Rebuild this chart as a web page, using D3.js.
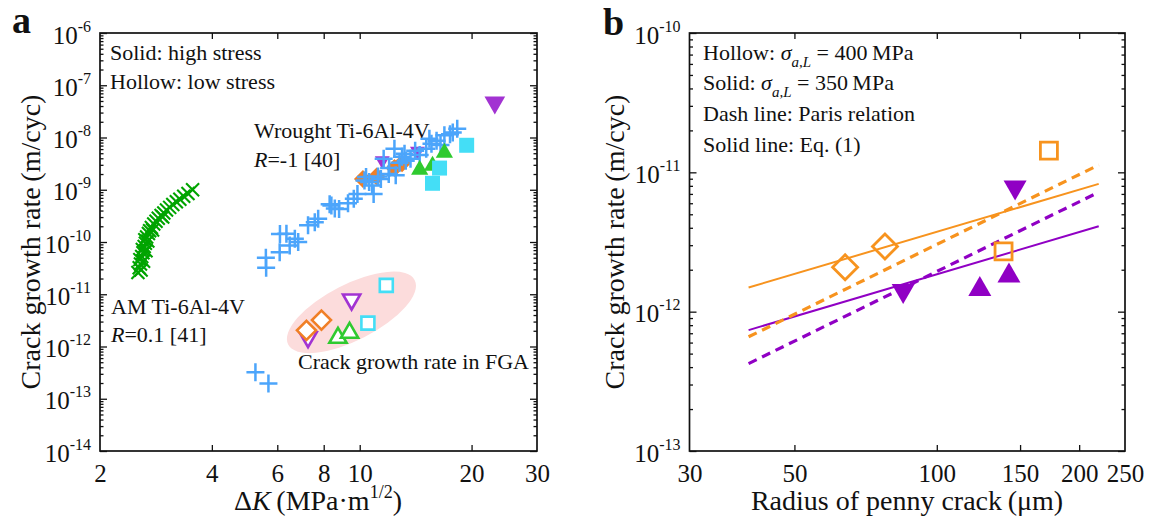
<!DOCTYPE html>
<html>
<head>
<meta charset="utf-8">
<script src="https://cdn.jsdelivr.net/npm/d3@7"></script>
<style>
  body { margin: 0; background: #ffffff; }
  svg text { font-family: "Liberation Serif", "DejaVu Serif", serif; fill: #111; }
</style>
</head>
<body>
<svg id="chart" width="1150" height="521" font-family="Liberation Serif"></svg>
<script>
/* ---------- panel a data : [dK (MPa m^1/2), da/dN (m/cyc)] ---------- */
const amTi = [
  [2.53,2.6e-11],[2.55,3.2e-11],[2.57,3.8e-11],[2.56,4.6e-11],[2.59,5.3e-11],[2.61,6.2e-11],
  [2.60,7.2e-11],[2.63,8.2e-11],[2.65,9.5e-11],[2.64,1.1e-10],[2.67,1.25e-10],[2.70,1.45e-10],
  [2.72,1.65e-10],[2.75,1.9e-10],[2.79,2.2e-10],[2.83,2.5e-10],[2.87,2.85e-10],[2.92,3.2e-10],
  [2.97,3.6e-10],[3.02,4.1e-10],[3.08,4.6e-10],[3.14,5.2e-10],[3.21,5.9e-10],[3.28,6.6e-10],
  [3.36,7.5e-10],[3.45,8.5e-10],[3.55,1.0e-9],[2.58,2.9e-11],[2.62,4.3e-11],[2.66,6.8e-11],
  [2.69,1.05e-10],[2.77,1.7e-10],[2.95,3.0e-10]
];
const wroughtTi = [
  [5.24,3.2e-13],[5.68,1.95e-13],
  [5.60,3.2e-11],[5.59,5.0e-11],[6.09,6.4e-11],[6.10,1.42e-10],[6.35,1.44e-10],[6.48,8.6e-11],
  [6.69,1.16e-10],[6.83,1.0e-10],[7.26,2.1e-10],[7.57,2.4e-10],[7.73,2.8e-10],[8.39,5.0e-10],
  [8.57,4.4e-10],[8.30,5.3e-10],[8.80,4.3e-10],[9.30,5.5e-10],[9.64,6.7e-10],[9.86,8.3e-10],
  [10.9,8.3e-10],[10.3,1.5e-9],[10.8,1.2e-9],[11.4,1.6e-9],[11.97,2.0e-9],[12.5,1.9e-9],
  [11.6,3.9e-9],[12.4,6.1e-9],[13.2,4.9e-9],[13.7,3.9e-9],[14.1,5.6e-9],[15.1,6.1e-9],
  [15.6,7.6e-9],[16.1,8.7e-9],[16.9,1.1e-8],[17.5,1.15e-8],[18.3,1.47e-8],[10.6,1.4e-9],
  [11.2,1.8e-9],[12.0,2.6e-9],[12.8,3.3e-9],[13.3,3.6e-9],[13.0,4.3e-9],[14.5,4.6e-9],
  [16.5,7.2e-9],[17.8,1.25e-8],[15.4,9.5e-9],[10.4,1.75e-9]
];
const solidDiamond = [[10.2,1.6e-9],[11.1,1.8e-9],[12.4,2.6e-9],[13.0,3.2e-9]];
const solidTriDown = [[11.5,3.3e-9],[14.3,5.0e-9]];
const solidTriDownBig = [[23.1,4.1e-8]];
const solidTriUp = [[14.5,2.7e-9],[15.7,3.2e-9],[16.9,5.7e-9]];
const solidSquare = [[15.7,1.33e-9],[16.4,2.6e-9],[19.4,7.1e-9]];
const hollowTriDown = [[7.26,1.35e-12],[9.51,7.1e-12]];
const hollowDiamond = [[7.19,2.04e-12],[7.89,3.2e-12]];
const hollowTriUp = [[8.74,1.64e-12],[9.39,2.04e-12]];
const hollowSquare = [[10.52,2.8e-12],[11.79,1.48e-11]];
const fgaCenter = [9.5, 4.5e-12];

/* ---------- panel b data : [radius (um), da/dN (m/cyc)] ---------- */
const bDiamond = [[64.0,2.08e-12],[77.7,2.94e-12]];
const bSquare = [[138.4,2.71e-12],[172.6,1.43e-11]];
const bTriDown = [[84.9,1.34e-12],[146.4,7.4e-12]];
const bTriUp = [[123.3,1.53e-12],[142.1,1.91e-12]];
const fitRadius = [40, 220];
const hollowEq1 = [1.49e-12, 8.26e-12];
const hollowParis = [6.6e-13, 1.13e-11];
const solidEq1 = [7.37e-13, 4.1e-12];
const solidParis = [4.24e-13, 7.2e-12];

/* ---------- ticks ---------- */
const xTicksA = [2, 4, 6, 8, 10, 20, 30];
const yExpA = [-14, -13, -12, -11, -10, -9, -8, -7, -6];
const xTicksB = [30, 50, 100, 150, 200, 250];
const yExpB = [-13, -12, -11, -10];

/* ---------- colours ---------- */
const C = {
  blue: "#4ca5fb", green: "#00a400", orange: "#f07f26", purple: "#a233d2",
  lime: "#2fca2f", cyan: "#44def6", pink: "#fcdcdc",
  orangeB: "#f7931e", purpleB: "#9000c4"
};

const svg = d3.select("#chart");

const xA = d3.scaleLog().domain([2, 30]).range([100, 537]);
const yA = d3.scaleLog().domain([1e-14, 1e-6]).range([451, 33]);
const xB = d3.scaleLog().domain([30, 250]).range([689.5, 1125]);
const yB = d3.scaleLog().domain([1e-13, 1e-10]).range([451, 33]);

const shapes = {
  plus:    s => `M${-s},0H${s}M0,${-s}V${s}`,
  cross:   s => `M${-s},${-s}L${s},${s}M${-s},${s}L${s},${-s}`,
  diamond: s => `M0,${-s}L${s},0L0,${s}L${-s},0Z`,
  square:  s => `M${-s},${-s}H${s}V${s}H${-s}Z`,
  triUp:   s => `M0,${-s}L${1.15 * s},${s}L${-1.15 * s},${s}Z`,
  triDown: s => `M0,${s}L${1.15 * s},${-s}L${-1.15 * s},${-s}Z`
};

function points(g, data, x, y, shape, size, fill, stroke, sw) {
  g.append("g").selectAll("path").data(data).join("path")
    .attr("transform", d => `translate(${x(d[0])},${y(d[1])})`)
    .attr("d", shapes[shape](size))
    .attr("fill", fill)
    .attr("stroke", stroke)
    .attr("stroke-width", sw)
    .attr("stroke-linejoin", "miter");
}

function axes(g, x, y, xTicks, yExps) {
  const [x0, x1] = x.range();
  const [y0, y1] = y.range();
  const majors = yExps.map(e => Math.pow(10, e));
  const minors = [];
  yExps.slice(0, -1).forEach(e => { for (let k = 2; k <= 9; k++) minors.push(k * Math.pow(10, e)); });
  const inner = xTicks.slice(1, -1);
  const clean = s => s.call(a => a.select(".domain").remove());

  // inward ticks on all four sides
  g.append("g").attr("transform", `translate(${x0},0)`)
    .call(d3.axisRight(y).tickValues(minors).tickSize(3.5).tickFormat("")).call(clean);
  g.append("g").attr("transform", `translate(${x0},0)`)
    .call(d3.axisRight(y).tickValues(majors).tickSize(7).tickFormat("")).call(clean);
  g.append("g").attr("transform", `translate(${x1},0)`)
    .call(d3.axisLeft(y).tickValues(minors).tickSize(3.5).tickFormat("")).call(clean);
  g.append("g").attr("transform", `translate(${x1},0)`)
    .call(d3.axisLeft(y).tickValues(majors).tickSize(7).tickFormat("")).call(clean);
  g.append("g").attr("transform", `translate(0,${y0})`)
    .call(d3.axisTop(x).tickValues(inner).tickSize(6).tickFormat("")).call(clean);
  g.append("g").attr("transform", `translate(0,${y1})`)
    .call(d3.axisBottom(x).tickValues(inner).tickSize(6).tickFormat("")).call(clean);
  g.selectAll(".tick line").attr("stroke", "#111").attr("stroke-width", 1.3);

  // y labels 10^n
  const yl = g.append("g").attr("transform", `translate(${x0},0)`)
    .call(d3.axisLeft(y).tickValues(majors).tickSize(0).tickPadding(9))
    .call(clean)
    .attr("font-family", "Liberation Serif").attr("font-size", null);
  yl.selectAll(".tick text").text(null)
    .attr("dy", null).attr("y", 10).attr("font-size", 25)
    .each(function (d) {
      const t = d3.select(this);
      t.append("tspan").text("10");
      t.append("tspan").attr("dy", -12).attr("font-size", 16).text(String(Math.round(Math.log10(d))));
    });

  // x labels
  const xl = g.append("g").attr("transform", `translate(0,${y0})`)
    .call(d3.axisBottom(x).tickValues(xTicks).tickSize(0).tickFormat(d3.format("d")))
    .call(clean)
    .attr("font-family", "Liberation Serif").attr("font-size", null);
  xl.selectAll(".tick text").attr("dy", null).attr("y", 31).attr("font-size", 25);

  // frame
  g.append("rect").attr("x", x0).attr("y", y1).attr("width", x1 - x0).attr("height", y0 - y1)
    .attr("fill", "none").attr("stroke", "#111").attr("stroke-width", 1.7);
}

function label(g, x, y, parts, size) {
  const t = g.append("text").attr("x", x).attr("y", y).attr("font-size", size || 22);
  parts.forEach(p => {
    const s = t.append("tspan").text(p.t);
    if (p.i) s.attr("font-style", "italic");
    if (p.dy) s.attr("dy", p.dy);
    if (p.fs) s.attr("font-size", p.fs);
  });
  return t;
}

/* ======================= panel a ======================= */
const ga = svg.append("g");

// FGA ellipse
ga.append("ellipse")
  .attr("transform", `translate(${xA(fgaCenter[0])},${yA(fgaCenter[1])}) rotate(-27)`)
  .attr("rx", 71).attr("ry", 28).attr("fill", C.pink);

points(ga, amTi, xA, yA, "cross", 6.5, "none", C.green, 2.1);
points(ga, solidTriDown, xA, yA, "triDown", 6.5, C.purple, "none", 0);
points(ga, solidDiamond, xA, yA, "diamond", 9, C.orange, "none", 0);
points(ga, wroughtTi, xA, yA, "plus", 9, "none", C.blue, 2.5);
points(ga, solidTriUp, xA, yA, "triUp", 7.5, C.lime, "none", 0);
points(ga, solidSquare, xA, yA, "square", 7.5, C.cyan, "none", 0);
points(ga, solidTriDownBig, xA, yA, "triDown", 9, C.purple, "none", 0);

points(ga, hollowTriDown, xA, yA, "triDown", 7.5, "#fff", C.purple, 2.6);
points(ga, hollowDiamond, xA, yA, "diamond", 9.5, "#fff", C.orange, 2.6);
points(ga, hollowTriUp, xA, yA, "triUp", 7.5, "#fff", C.lime, 2.6);
points(ga, hollowSquare, xA, yA, "square", 6.5, "#fff", C.cyan, 2.6);

axes(ga, xA, yA, xTicksA, yExpA);

label(ga, 110, 60, [{ t: "Solid: high stress" }]);
label(ga, 110, 89, [{ t: "Hollow: low stress" }]);
label(ga, 254, 138, [{ t: "Wrought Ti-6Al-4V" }]);
label(ga, 254, 167, [{ t: "R", i: true }, { t: "=-1 [40]" }]);
label(ga, 111, 314, [{ t: "AM Ti-6Al-4V" }]);
label(ga, 111, 342, [{ t: "R", i: true }, { t: "=0.1 [41]" }]);
label(ga, 298, 369, [{ t: "Crack growth rate in FGA" }]);

ga.append("text").attr("x", 12).attr("y", 33).attr("font-size", 38).attr("font-weight", "bold").text("a");
ga.append("text").attr("transform", "translate(40,242) rotate(-90)")
  .attr("text-anchor", "middle").attr("font-size", 28).text("Crack growth rate\u2009(m/cyc)");
label(ga, 318, 510, [{ t: "\u0394" }, { t: "K", i: true }, { t: "\u2009(MPa\u00b7m" },
  { t: "1/2", dy: -12, fs: 18 }, { t: ")", dy: 12 }], 28).attr("text-anchor", "middle");

/* ======================= panel b ======================= */
const gb = svg.append("g");
const fit = d3.line().x(d => xB(d[0])).y(d => yB(d[1]));
const lineData = v => fitRadius.map((r, i) => [r, v[i]]);

gb.append("path").attr("d", fit(lineData(hollowEq1))).attr("fill", "none")
  .attr("stroke", C.orangeB).attr("stroke-width", 2);
gb.append("path").attr("d", fit(lineData(solidEq1))).attr("fill", "none")
  .attr("stroke", C.purpleB).attr("stroke-width", 2);
gb.append("path").attr("d", fit(lineData(hollowParis))).attr("fill", "none")
  .attr("stroke", C.orangeB).attr("stroke-width", 3.2).attr("stroke-dasharray", "9,6");
gb.append("path").attr("d", fit(lineData(solidParis))).attr("fill", "none")
  .attr("stroke", C.purpleB).attr("stroke-width", 3.2).attr("stroke-dasharray", "9,6");

points(gb, bDiamond, xB, yB, "diamond", 12.5, "none", C.orangeB, 2.8);
points(gb, bSquare, xB, yB, "square", 8.5, "none", C.orangeB, 2.8);
points(gb, bTriDown, xB, yB, "triDown", 10, C.purpleB, "none", 0);
points(gb, bTriUp, xB, yB, "triUp", 10, C.purpleB, "none", 0);

axes(gb, xB, yB, xTicksB, yExpB);

const sub = [{ t: "\u03c3", i: true }, { t: "a,L", i: true, dy: 7, fs: 15 }];
label(gb, 703, 60, [{ t: "Hollow: " }, ...sub, { t: " = 400\u2009MPa", dy: -7 }]);
label(gb, 703, 90, [{ t: "Solid: " }, ...sub, { t: " = 350\u2009MPa", dy: -7 }]);
label(gb, 703, 121, [{ t: "Dash line: Paris relation" }]);
label(gb, 703, 152, [{ t: "Solid line: Eq. (1)" }]);

gb.append("text").attr("x", 603).attr("y", 35).attr("font-size", 38).attr("font-weight", "bold").text("b");
gb.append("text").attr("transform", "translate(624,242) rotate(-90)")
  .attr("text-anchor", "middle").attr("font-size", 28).text("Crack growth rate\u2009(m/cyc)");
gb.append("text").attr("x", 907).attr("y", 510).attr("text-anchor", "middle").attr("font-size", 28)
  .text("Radius of penny crack\u2009(\u03bcm)");
</script>
</body>
</html>
